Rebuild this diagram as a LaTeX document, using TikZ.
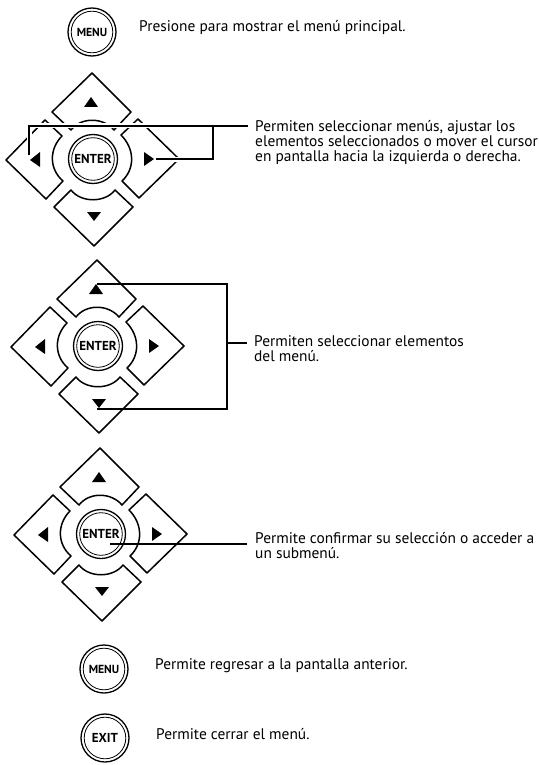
\documentclass[tikz,border=0pt]{standalone}
\usepackage{fontspec}
\setmainfont{PT Sans}
\tikzset{
  x=1pt,y=-1pt,
  btn/.style={draw,line width=1.5pt,line join=round,fill=white},
  tri/.style={fill=black,draw=none},
  lead/.style={draw,line width=1.2pt},
  halo/.style={draw=white,line width=5pt},
  caption/.style={anchor=north west,align=left,inner sep=0pt,font=\fontsize{15.4}{14.7}\selectfont},
  keytext/.style={font=\bfseries\fontsize{10.2}{12}\selectfont,inner sep=0pt},
}
\newcommand{\padkey}[5]{% x y r label size
  \draw[line width=1.3pt] (#1,#2) circle (#3);
  \draw[line width=.8pt] (#1,#2) circle (#3-3.2);
  \node[keytext] at (#1,#2) {\fontsize{#5}{12}\selectfont #4};
}
\newcommand{\pad}[2]{%
\begin{scope}[shift={(#1,#2)}]
  \path[btn] (-1,-86) -- (38,-47) -- (21,-29) .. controls (10,-42) and (-12,-42) .. (-22,-29) -- (-41,-47) -- cycle;
  \path[btn] (-87,1) -- (-48,-39) -- (-31,-23) .. controls (-44,-10) and (-44,10) .. (-30,22) -- (-47,40) -- cycle;
  \path[btn] (86,0) -- (45,-40) -- (28,-24) .. controls (42,-10) and (42,10) .. (29,22) -- (46,39) -- cycle;
  \path[btn] (1,87) -- (40,48) -- (22,31) .. controls (12,44) and (-12,44) .. (-22,31) -- (-39,48) -- cycle;
  \fill[tri] (-9,-52) -- (5,-52) -- (-2,-62) -- cycle;
  \fill[tri] (-63,1) -- (-53,-7) -- (-53,8) -- cycle;
  \fill[tri] (61,0) -- (51,-7) -- (51,7) -- cycle;
  \fill[tri] (-6,53) -- (8,53) -- (1,62) -- cycle;
\end{scope}}
\begin{document}
\begin{tikzpicture}
\useasboundingbox (0,0) rectangle (538,765);
\padkey{92}{32}{24}{MENU}{11.7}
\node[caption] (t1) at (139,20.7) {Presione para mostrar el menú principal.};

% pad 1
\pad{93}{159}
\padkey{93}{159}{24.5}{ENTER}{13}
\coordinate (a1) at (248,126);
\coordinate (a2) at (29,126);
\coordinate (a3) at (29,155);
\coordinate (a4) at (213,126);
\coordinate (a5) at (213,159);
\coordinate (a6) at (156,159);
\draw[halo] (a3) -- (a2) -- (a1);
\draw[halo] (a4) -- (a5) -- (a6);
\draw[lead] (a3) -- (a2) -- (a1);
\draw[lead] (a4) -- (a5) -- (a6);
\node[caption] (t2) at (255,120.7) {Permiten seleccionar menús, ajustar los\\elementos seleccionados o mover el cursor\\en pantalla hacia la izquierda o derecha.};

% pad 2
\pad{98}{346}
\padkey{98}{346}{24.5}{ENTER}{13}
\coordinate (b1) at (97,284);
\coordinate (b2) at (227,284);
\coordinate (b3) at (227,409);
\coordinate (b4) at (97,409);
\coordinate (b5) at (227,343);
\coordinate (b6) at (247,343);
\draw[lead] (b1) -- (b2) -- (b3) -- (b4);
\draw[lead] (b5) -- (b6);
\node[caption] (t3) at (254,335.7) {Permiten seleccionar elementos\\del menú.};

% pad 3
\pad{101}{534}
\padkey{101}{534}{24.5}{ENTER}{13}
\coordinate (c1) at (110,544);
\coordinate (c2) at (247,544);
\draw[lead] (c1) -- (c2);
\node[caption] (t4) at (255,532.7) {Permite confirmar su selección o acceder a\\un submenú.};

\padkey{104}{669}{24}{MENU}{11.7}
\node[caption] (t5) at (155,658.7) {Permite regresar a la pantalla anterior.};
\padkey{105}{738}{24}{EXIT}{13}
\node[caption] (t6) at (156,728.7) {Permite cerrar el menú.};
\end{tikzpicture}
\end{document}
